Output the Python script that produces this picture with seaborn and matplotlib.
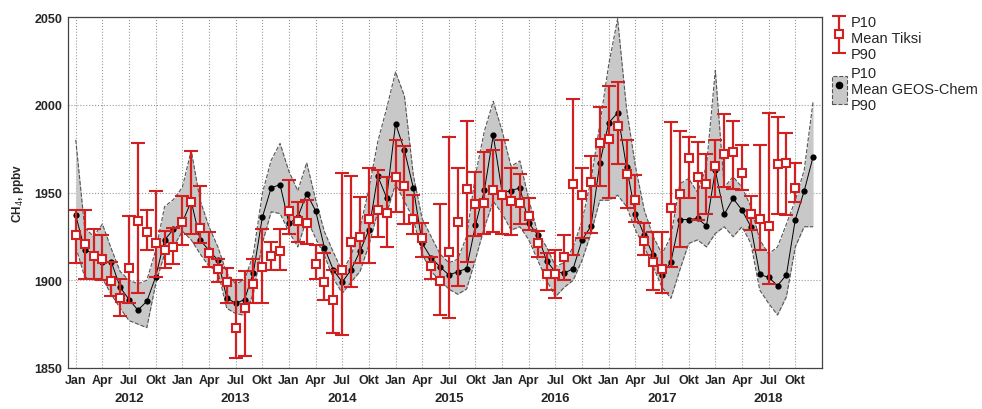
import numpy as np
import pandas as pd
import matplotlib
matplotlib.use("Agg")
import matplotlib.pyplot as plt
import seaborn as sns
from matplotlib.patches import Patch
from matplotlib.lines import Line2D
from matplotlib.legend_handler import HandlerTuple, HandlerErrorbar
from matplotlib.container import ErrorbarContainer
import matplotlib.transforms as mtransforms

# monthly values Jan 2012 .. Dec 2018 (one row per year)
years = [2012, 2013, 2014, 2015, 2016, 2017, 2018]
month_labels = ["Jan", "Apr", "Jul", "Okt"]
nan = np.nan

tiksi_mean = [
    1926, 1920.6, 1914, 1912, 1899.5, 1890, 1907, 1934, 1927.6, 1921, 1917, 1919,
    1933, 1944.5, 1930, 1915.7, 1906.7, 1899, 1872.6, 1884.3, 1898, 1907.7, 1913.8, 1916.6,
    1939.6, 1934, 1932.7, 1909, 1899, 1888.7, 1906, 1922, 1924.8, 1934.8, 1940.3, 1938.4,
    1959, 1953.6, 1934.8, 1924, 1908, 1899.5, 1916, 1933, 1952, 1943.7, 1944.3, 1951.3,
    1948.5, 1945, 1944.3, 1936.5, 1921, 1903.3, 1903.3, 1913.4, 1954.6, 1948.5, 1956, 1978.3,
    1980.7, 1987.8, 1960.8, 1946, 1922.5, 1910.3, 1906.7, 1941, 1949.4, 1969.4, 1959, 1955,
    1965, 1972.2, 1973, 1961, 1937.5, 1934.8, 1931, 1966, 1967, 1952.8, nan, nan,
]
tiksi_p90 = [
    1940, 1940, 1929, 1926, 1910.5, 1901, 1936.5, 1978, 1940, 1951, 1928, 1930,
    1948, 1973.7, 1953.6, 1927.6, 1912.4, 1907, 1900, 1905, 1912, 1929, 1922, 1929,
    1957, 1944.7, 1945.6, 1920, 1915.7, 1905.8, 1961, 1959.3, 1947.5, 1964, 1962.7, 1959,
    1980, 1976.4, 1948.5, 1932.7, 1913, 1943.4, 1981.7, 1963.7, 1991, 1961.8, 1973, 1974,
    1980, 1963.7, 1960.4, 1946.6, 1928.2, 1915.3, 1917, 1925.7, 2003.5, 1964, 1970.7, 1999,
    2010.5, 2013, 1980, 1960, 1932.4, 1927.6, 1927.6, 1990, 1985, 1981.7, 1978.8, 1972,
    1980, 1995, 1991, 1977, 1948, 1977, 1995.3, 1993, 1984, 1967, nan, nan,
]
tiksi_p10 = [
    1910, 1901, 1901, 1900, 1891, 1879.6, 1887, 1893, 1917, 1902, 1907, 1909,
    1920, 1926.6, 1921, 1907.7, 1899, 1886.8, 1855.5, 1857, 1886.8, 1887, 1905.8, 1905.8,
    1926.6, 1922, 1920.6, 1901, 1889, 1869.7, 1868.8, 1896, 1909.6, 1909.6, 1924.8, 1919,
    1939, 1932, 1926.6, 1913.4, 1901, 1880, 1878.3, 1896.7, 1910.5, 1925, 1926.6, 1927.6,
    1926.6, 1925.7, 1932, 1928.6, 1913.4, 1894.4, 1889.7, 1900, 1914.3, 1924, 1927, 1954,
    1946.6, 1966, 1941, 1933, 1914.3, 1894.4, 1892.5, 1907.7, 1919, 1946.6, 1934.3, 1938,
    1947.5, 1953, 1952, 1951.7, 1928.6, 1917, 1898, 1938, 1937, 1944.7, nan, nan,
]

geos_mean = [
    1937, 1917.5, 1915, 1910.5, 1910.5, 1896, 1889, 1883, 1888, 1902, 1923, 1929,
    1933, 1945, 1923, 1917, 1911.5, 1890, 1886.8, 1889, 1904.4, 1935.8, 1952.7, 1954.5,
    1932.4, 1936, 1949.4, 1939.6, 1918.5, 1905.8, 1899, 1906, 1916.6, 1928.6, 1959.3, 1947,
    1989.3, 1974, 1952.7, 1921, 1912.8, 1907.7, 1903, 1904.8, 1906.7, 1931.4, 1951.3, 1982.6,
    1950, 1951, 1952.7, 1932.4, 1926, 1911, 1904.8, 1904, 1906.7, 1923, 1930.8, 1966.9,
    1989.7, 1995.4, 1964.6, 1938, 1925.7, 1914.3, 1903, 1910.5, 1934.6, 1934.6, 1935.2, 1931,
    1962.7, 1937.5, 1946.6, 1940, 1930.5, 1903.3, 1901.6, 1897, 1903, 1934.6, 1950.8, 1970.3,
]
geos_p90 = [
    1980, 1930, 1925, 1932, 1918, 1905, 1900, 1898, 1900, 1917, 1942, 1946,
    1953, 1974, 1945.6, 1930.5, 1919, 1904, 1898, 1900, 1915, 1949.4, 1968.4, 1978,
    1962, 1951, 1967, 1946, 1927.6, 1916, 1905, 1914, 1930, 1952, 1979, 1998,
    2018.7, 2005, 1960, 1935, 1925, 1915, 1910, 1912, 1925, 1960, 1985, 2002,
    1985, 1965, 1968, 1946, 1927, 1919, 1908, 1910, 1919, 1934, 1957, 1989,
    2023, 2049, 1998, 1965, 1940, 1925, 1915, 1925, 1955, 1958, 1950, 1965,
    2019.6, 1953, 1959, 1953, 1942, 1923, 1915, 1919, 1932, 1945.6, 1962.7, 2001.6,
]
geos_p10 = [
    1919, 1902, 1900, 1901, 1892, 1884, 1877, 1875, 1873, 1898, 1915, 1919,
    1928, 1923, 1915, 1908, 1905, 1884, 1881, 1880, 1892.5, 1921, 1939, 1938,
    1927.6, 1919, 1935, 1924, 1914, 1901, 1892.6, 1899, 1905, 1920, 1939, 1938,
    1955, 1945, 1935, 1915, 1905, 1900, 1895, 1892, 1895, 1912, 1930, 1945,
    1938, 1928.6, 1930.5, 1923, 1911.5, 1900, 1890.6, 1896, 1900, 1911.5, 1926.7, 1945.6,
    1945.6, 1948.5, 1942, 1928.6, 1919, 1907.7, 1896, 1889.7, 1905.8, 1921, 1923, 1919,
    1926.7, 1930.5, 1924.8, 1930.5, 1921, 1894.4, 1886.8, 1880.2, 1890.6, 1919, 1930.5, 1930.5,
]

df = pd.DataFrame({
    "month": np.arange(len(geos_mean)),
    "tiksi": tiksi_mean, "tiksi_p10": tiksi_p10, "tiksi_p90": tiksi_p90,
    "geos": geos_mean, "geos_p10": geos_p10, "geos_p90": geos_p90,
})

sns.set_style("white")
plt.rcParams["font.family"] = ["Arial", "Liberation Sans", "DejaVu Sans"]

red = "#d21f1f"
grey_fill = "#c8c8c8"
edge = "#555555"

fig = plt.figure(figsize=(9.82, 4.10), dpi=100)
ax = fig.add_axes([0.069, 0.1, 0.768, 0.856])

# GEOS-Chem band
ax.fill_between(df["month"], df["geos_p10"], df["geos_p90"], color=grey_fill, lw=0, zorder=1)
sns.lineplot(data=df, x="month", y="geos_p90", ax=ax, color=edge, lw=0.8, linestyle="--", zorder=2)
sns.lineplot(data=df, x="month", y="geos_p10", ax=ax, color=edge, lw=0.8, linestyle="--", zorder=2)
sns.lineplot(data=df, x="month", y="geos", ax=ax, color="black", lw=0.7,
             marker="o", markersize=4.5, markeredgewidth=0, zorder=3)

# Tiksi observations
t = df.dropna(subset=["tiksi"])
err = ax.errorbar(t["month"], t["tiksi"],
                  yerr=[t["tiksi"] - t["tiksi_p10"], t["tiksi_p90"] - t["tiksi"]],
                  fmt="s", color=red, ecolor=red, elinewidth=1.6, capsize=5, capthick=1.6,
                  markersize=6, markerfacecolor="white", markeredgecolor=red,
                  markeredgewidth=1.5, zorder=4)

ax.set_xlim(-0.9, 84)
ax.set_ylim(1850, 2050)
ax.set_yticks(np.arange(1850, 2051, 50))
xt = np.arange(0, 84, 3)
ax.set_xticks(xt)
ax.set_xticklabels([month_labels[(m // 3) % 4] for m in xt], fontweight="bold", fontsize=9)
for lab in ax.get_yticklabels():
    lab.set_fontweight("bold")
    lab.set_fontsize(9)
ax.tick_params(direction="in", length=4, color="#444444", pad=4)
ax.set_xlabel("")
ax.set_ylabel("CH$_4$, ppbv", fontweight="bold", fontsize=8.5, labelpad=6)
ax.grid(True, linestyle=":", color="#999999", lw=0.8)
for s in ax.spines.values():
    s.set_color("#444444")
    s.set_linewidth(0.9)

trans = mtransforms.blended_transform_factory(ax.transData, ax.transAxes)
for k, yr in enumerate(years):
    ax.text(12 * k + 6, -0.085, str(yr), transform=trans, ha="center", va="center",
            fontweight="bold", fontsize=9.5)

band = (Patch(facecolor=grey_fill, edgecolor=edge, linestyle="--", linewidth=0.8),
        Line2D([], [], marker="o", color="black", linestyle="none", markersize=4.5))
ax.legend([err, band], ["P10\nMean Tiksi\nP90", "P10\nMean GEOS-Chem\nP90"],
          handler_map={tuple: HandlerTuple(ndivide=1),
                       ErrorbarContainer: HandlerErrorbar(yerr_size=1.25, xerr_size=0.45)},
          loc="upper left", bbox_to_anchor=(1.0, 1.035), frameon=False,
          handlelength=1.0, handleheight=2.6, fontsize=10.5, labelspacing=0.3,
          handletextpad=0.3, borderaxespad=0.3)

fig.savefig("out.png", dpi=100)
